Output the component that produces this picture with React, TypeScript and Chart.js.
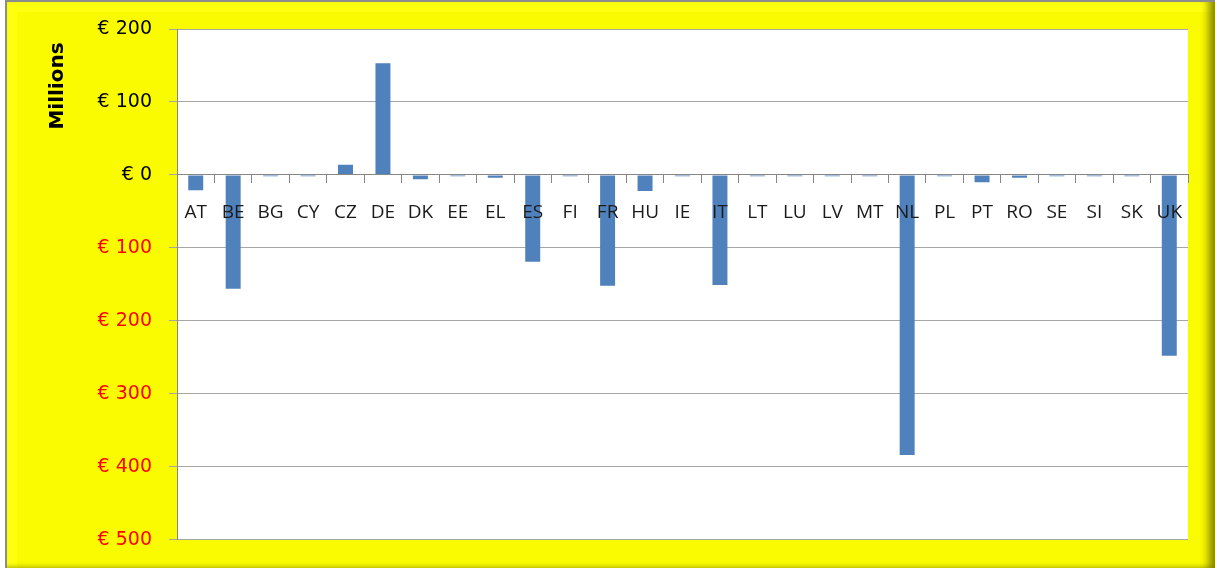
import React, { useEffect, useRef } from "react";
import { Chart, registerables } from "chart.js";

Chart.register(...registerables);

const countries = ["AT","BE","BG","CY","CZ","DE","DK","EE","EL","ES","FI","FR","HU","IE","IT","LT","LU","LV","MT","NL","PL","PT","RO","SE","SI","SK","UK"];
const values = [-21,-156,-2,-2,14,153,-6,-2,-4,-119,-2,-152,-22,-2,-151,-2,-2,-2,-2,-384,-2,-10,-4,-2,-2,-2,-248];
const yMin = -500;
const yMax = 200;
const yStep = 100;
const axisTitle = "Millions";

const plotBg = {
  id: "plotBg",
  beforeDraw(chart: any) {
    const { ctx, chartArea } = chart;
    ctx.save();
    ctx.fillStyle = "#ffffff";
    ctx.fillRect(chartArea.left, chartArea.top, chartArea.right - chartArea.left, chartArea.bottom - chartArea.top);
    ctx.restore();
  },
};

const titlePlugin = {
  id: "sideTitle",
  afterDraw(chart: any) {
    const { ctx } = chart;
    ctx.save();
    ctx.translate(58, 86);
    ctx.rotate(-Math.PI / 2);
    ctx.font = "bold 20px 'DejaVu Sans'";
    ctx.fillStyle = "#000000";
    ctx.textAlign = "center";
    ctx.textBaseline = "middle";
    ctx.fillText(axisTitle, 0, 0);
    ctx.restore();
  },
};

export default function App() {
  const ref = useRef<HTMLCanvasElement | null>(null);
  useEffect(() => {
    document.body.style.margin = "0";
    const chart = new Chart(ref.current as HTMLCanvasElement, {
      type: "bar",
      data: {
        labels: countries,
        datasets: [
          {
            data: values,
            backgroundColor: "#4F81BD",
            borderWidth: 0,
            barPercentage: 0.4,
            categoryPercentage: 1,
          },
        ],
      },
      options: {
        responsive: false,
        animation: false,
        layout: { padding: { left: 0, top: 29, right: 27, bottom: 28 } },
        plugins: { legend: { display: false }, tooltip: { enabled: false } },
        scales: {
          x: {
            position: { y: 0 } as any,
            grid: { drawOnChartArea: false, offset: true, tickLength: 8, color: "#868686", z: 1 },
            border: { color: "#868686", z: 1 },
            ticks: {
              z: 2,
              color: "#1a1a1a",
              padding: 18,
              autoSkip: false,
              maxRotation: 0,
              font: { family: "'Open Sans'", size: 19 },
            },
          },
          y: {
            min: yMin,
            max: yMax,
            afterFit(scale: any) {
              scale.width = 177;
            },
            grid: { color: "#a6a6a6", tickLength: 8 },
            border: { color: "#868686" },
            ticks: {
              stepSize: yStep,
              padding: 17,
              font: { family: "'DejaVu Sans'", size: 19 },
              color: (c: any) => (c.tick && c.tick.value < 0 ? "#ff0000" : "#000000"),
              callback: (v: any) => "€ " + Math.abs(Number(v)),
            },
          },
        },
      } as any,
      plugins: [plotBg, titlePlugin],
    });
    return () => chart.destroy();
  }, []);

  return (
    <div style={{ position: "relative", width: 1215, height: 568, overflow: "hidden" }}>
      <div
        style={{
          position: "absolute",
          left: 5,
          top: 0,
          right: 0,
          bottom: 0,
          boxSizing: "border-box",
          borderLeft: "2px solid #8c8c8c",
          borderTop: "2px solid #8c8c8c",
          background: "#fbfb00",
          boxShadow:
            "inset -12px 0 8px -6px rgba(110,110,0,0.85), inset 0 -5px 5px -4px rgba(110,110,0,0.5), inset 10px 10px 0 0 #ffff10",
        }}
      />
      <canvas ref={ref} width={1215} height={568} style={{ position: "absolute", left: 0, top: 0 }} />
    </div>
  );
}
